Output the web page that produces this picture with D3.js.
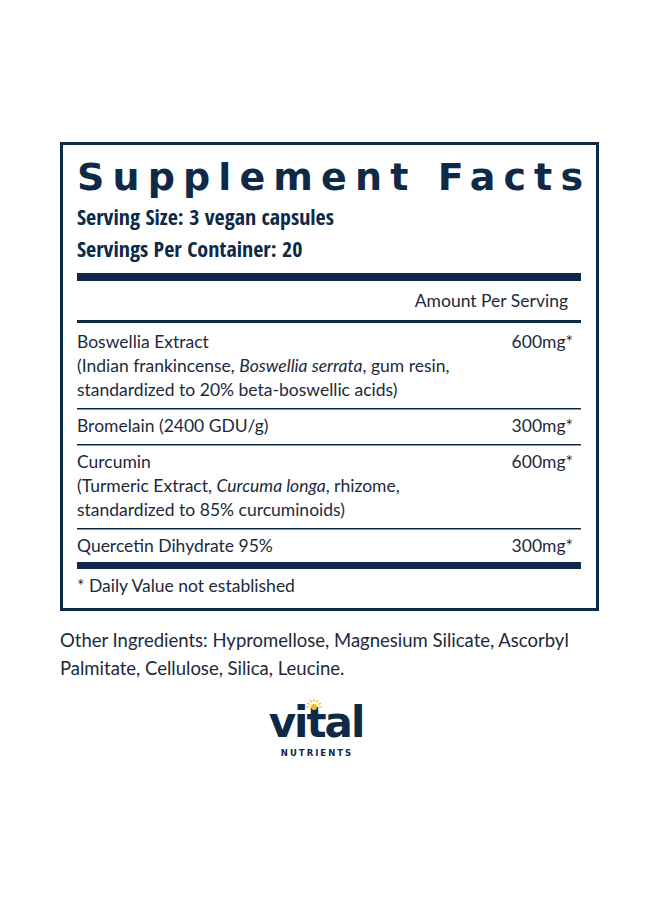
<!DOCTYPE html>
<html><head><meta charset="utf-8">
<script src="https://cdn.jsdelivr.net/npm/d3@7/dist/d3.min.js"></script>
<style>body{margin:0;background:#fff}</style></head>
<body><svg id="c" width="660" height="900"></svg>
<script>
const title = "Supplement Facts";
const servingInfo = ["Serving Size: 3 vegan capsules", "Servings Per Container: 20"];
const ingredientLines = [
  [["Boswellia Extract"], ["(Indian frankincense, ", ["Boswellia serrata"], ", gum resin,"], ["standardized to 20% beta-boswellic acids)"]],
  [["Bromelain (2400 GDU/g)"]],
  [["Curcumin"], ["(Turmeric Extract, ", ["Curcuma longa"], ", rhizome,"], ["standardized to 85% curcuminoids)"]],
  [["Quercetin Dihydrate 95%"]]
];
const amounts = ["600mg*", "300mg*", "600mg*", "300mg*"];
const footnote = "* Daily Value not established";
const otherIngredients = ["Other Ingredients: Hypromellose, Magnesium Silicate, Ascorbyl", "Palmitate, Cellulose, Silica, Leucine."];

const navy = "#0e2a47", txt = "#1c2a3a";
const cond = "'Open Sans Condensed',sans-serif";
const reg = "Lato,'Liberation Sans',sans-serif";
const svg = d3.select("#c");
svg.append("rect").attr("x",61.5).attr("y",143.5).attr("width",536).attr("height",466)
  .attr("fill","none").attr("stroke",navy).attr("stroke-width",3);
svg.append("text").attr("x",77).attr("y",190).attr("textLength",506).attr("lengthAdjust","spacing")
  .attr("font-family","'DejaVu Sans',sans-serif").attr("font-weight","bold").attr("font-size",38)
  .attr("fill",navy).text(title);
servingInfo.forEach((s,i)=>svg.append("text").attr("x",77).attr("y",225+i*32)
  .attr("font-family",cond).attr("font-weight","bold").attr("font-size",22).attr("fill",navy).text(s));
const bar=(y,h)=>svg.append("rect").attr("x",77).attr("y",y).attr("width",504).attr("height",h).attr("fill",navy);
bar(273,8);
svg.append("text").attr("x",568).attr("y",307).attr("text-anchor","end").attr("font-family",reg)
  .attr("font-size",17.5).attr("fill",txt).text("Amount Per Serving");
bar(320,3);
const lh=24; let y=348;
ingredientLines.forEach((lines,i)=>{
  svg.append("text").attr("x",573).attr("y",y).attr("text-anchor","end").attr("font-family",reg)
    .attr("font-size",17.5).attr("fill",txt).text(amounts[i]);
  lines.forEach((ln,j)=>{
    const t=svg.append("text").attr("x",77).attr("y",y+j*lh).attr("font-family",reg).attr("font-size",17.5).attr("fill",txt);
    ln.forEach(p=>{ if(Array.isArray(p)) t.append("tspan").attr("font-style","italic").text(p[0]); else t.append("tspan").text(p); });
  });
  y+=lines.length*lh;
  if(i<ingredientLines.length-1){ bar(y-12,1.5); y+=12; }
  else bar(y-14,7);
});
svg.append("text").attr("x",77).attr("y",592).attr("font-family",reg).attr("font-size",17.5).attr("fill",txt).text(footnote);
otherIngredients.forEach((s,i)=>svg.append("text").attr("x",60).attr("y",647+i*28)
  .attr("font-family",reg).attr("font-size",18.5).attr("fill",txt).text(s));
// logo
svg.append("text").attr("x",316).attr("y",737).attr("text-anchor","middle").attr("font-family","'DejaVu Sans',sans-serif")
  .attr("font-weight","bold").attr("font-size",42).attr("letter-spacing",-2).attr("fill",navy).text("vital");
svg.append("text").attr("x",317).attr("y",756).attr("text-anchor","middle").attr("font-family","'DejaVu Sans',sans-serif")
  .attr("font-weight","bold").attr("font-size",8.5).attr("letter-spacing",2).attr("fill",navy).text("NUTRIENTS");
const sun=svg.append("g").attr("transform","translate(314,707)");
sun.append("circle").attr("r",3).attr("fill","#f5b923");
d3.range(7).forEach(k=>{const a=Math.PI*(1+k/6);sun.append("line").attr("x1",5*Math.cos(a)).attr("y1",5*Math.sin(a))
  .attr("x2",8*Math.cos(a)).attr("y2",8*Math.sin(a)).attr("stroke","#f5b923").attr("stroke-width",1.2);});
</script></body></html>
